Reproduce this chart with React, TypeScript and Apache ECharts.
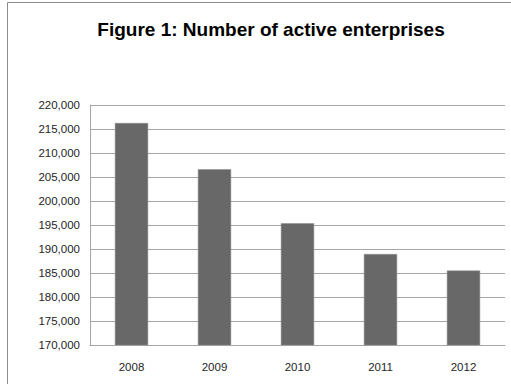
import React, { useEffect, useRef } from "react";
import * as echarts from "echarts";

const title = "Figure 1: Number of active enterprises";
const years = ["2008", "2009", "2010", "2011", "2012"];
const enterprises = [216250, 206600, 195350, 188950, 185500];
const yMin = 170000;
const yMax = 220000;
const yStep = 5000;

export default function App() {
  const ref = useRef<HTMLDivElement>(null);
  useEffect(() => {
    document.body.style.margin = "0";
    const chart = echarts.init(ref.current!, null, { renderer: "svg" });
    chart.setOption({
      animation: false,
      backgroundColor: "#ffffff",
      title: {
        text: title,
        left: 266,
        textAlign: "center",
        top: 15,
        textStyle: {
          fontFamily: "Liberation Sans",
          fontWeight: "bold",
          fontSize: 19,
          color: "#000000",
        },
      },
      graphic: [
        {
          type: "rect",
          shape: { x: 7.5, y: 2.5, width: 520, height: 400 },
          style: { fill: "none", stroke: "#8c8c8c", lineWidth: 1 },
          silent: true,
        },
      ],
      grid: { left: 90, right: 6, top: 105, bottom: 39 },
      xAxis: {
        type: "category",
        data: years,
        axisLine: { show: true, lineStyle: { color: "#a6a6a6", width: 1 } },
        axisTick: { show: false },
        axisLabel: {
          margin: 16,
          fontFamily: "Liberation Sans",
          fontSize: 11.5,
          color: "#262626",
        },
      },
      yAxis: {
        type: "value",
        min: yMin,
        max: yMax,
        interval: yStep,
        axisLine: { show: true, lineStyle: { color: "#a6a6a6", width: 1 } },
        axisTick: { show: false },
        splitLine: { show: true, lineStyle: { color: "#a6a6a6", width: 1 } },
        axisLabel: {
          margin: 10,
          fontFamily: "Liberation Sans",
          fontSize: 11.5,
          color: "#262626",
          formatter: (v: number) => v.toLocaleString("en-US"),
        },
      },
      series: [
        {
          type: "bar",
          data: enterprises,
          barWidth: "40%",
          itemStyle: { color: "#686868", borderColor: "#8a8a8a", borderWidth: 0.5 },
        },
      ],
    });
    return () => chart.dispose();
  }, []);
  return (
    <div
      ref={ref}
      style={{ position: "fixed", left: 0, top: 0, width: 511, height: 384 }}
    />
  );
}
